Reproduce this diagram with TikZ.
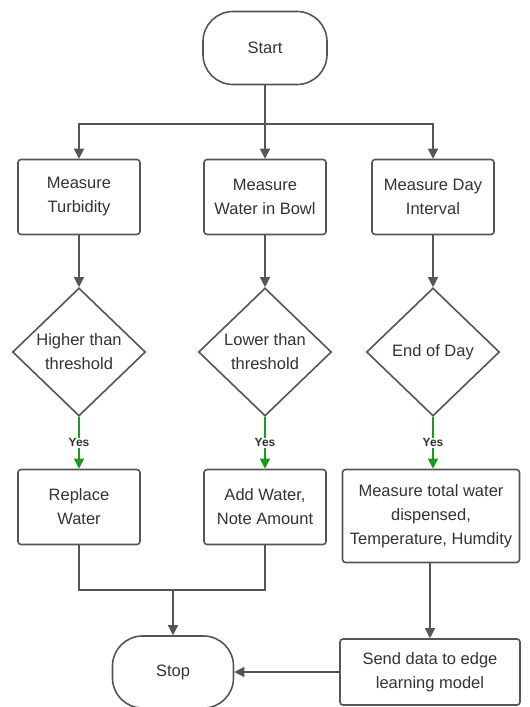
\documentclass[tikz,border=0pt]{standalone}
\usepackage{fontspec}
\setmainfont{Liberation Sans}
\usetikzlibrary{shapes.geometric,arrows.meta}
\definecolor{linegray}{HTML}{555555}
\definecolor{txtgray}{HTML}{333333}
\definecolor{yesgreen}{HTML}{1E9A1E}
\begin{document}
\begin{tikzpicture}[x=1pt,y=-1pt,
  every node/.style={text=txtgray,font=\fontsize{16.5}{24}\selectfont},
  term/.style={draw=linegray,line width=1.6pt,rounded corners=30pt,minimum width=124pt,minimum height=73pt},
  box/.style={draw=linegray,line width=1.6pt,rounded corners=3pt,minimum width=122pt,minimum height=75pt,align=center},
  cond/.style={diamond,draw=linegray,line width=1.6pt,minimum width=133pt,minimum height=128pt,inner sep=0pt,align=center},
  conn/.style={draw=linegray,line width=1.3pt},
  arr/.style={conn,-{Triangle[length=10pt,width=10pt]}},
  yesarr/.style={draw=yesgreen,line width=1.3pt,-{Triangle[length=10pt,width=10pt]}},
  yes/.style={fill=white,inner sep=1pt,font=\fontsize{12}{14}\selectfont\bfseries}]
\useasboundingbox (0,0) rectangle (530,707);
\node [term] (start) at (265,48) {Start};
\coordinate (split) at (265,124);
\node [box] (turb) at (79,197) {Measure\\Turbidity};
\node [box] (bowl) at (265,197) {Measure\\Water in Bowl};
\node [box] (day) at (433,197) {Measure Day\\Interval};
\node [cond] (high) at (79,352) {Higher than\\threshold};
\node [cond] (low) at (265,352) {Lower than\\threshold};
\node [cond] (eod) at (433,352) {End of Day};
\node [box] (replace) at (79,507) {Replace\\Water};
\node [box] (addw) at (265,507) {Add Water,\\Note Amount};
\node [box,minimum width=177pt,minimum height=93pt] (total) at (431,516) {Measure total water\\dispensed,\\Temperature, Humdity};
\coordinate (merge) at (173,590);
\node [term,minimum width=121pt,minimum height=72pt] (stop) at (173,672) {Stop};
\node [box,minimum width=180pt,minimum height=66pt] (send) at (430,672) {Send data to edge\\learning model};
% start to the three measures
\draw [conn] (start) -- (split);
\draw [arr] (split) -| (turb);
\draw [arr] (split) -- (bowl);
\draw [arr] (split) -| (day);
\draw [arr] (turb) -- (high);
\draw [arr] (bowl) -- (low);
\draw [arr] (day) -- (eod);
% yes branches
\draw [yesarr] (high) -- node [yes] {Yes} (replace);
\draw [yesarr] (low) -- node [yes] {Yes} (addw);
\draw [yesarr] (eod) -- node [yes] {Yes} (eod|-total.north);
% to stop
\draw [conn] (replace) |- (merge);
\draw [conn] (addw) |- (merge);
\draw [arr] (merge) -- (stop);
\draw [arr] (total.south-|send) -- (send);
\draw [arr] (send) -- (stop);
\end{tikzpicture}
\end{document}
